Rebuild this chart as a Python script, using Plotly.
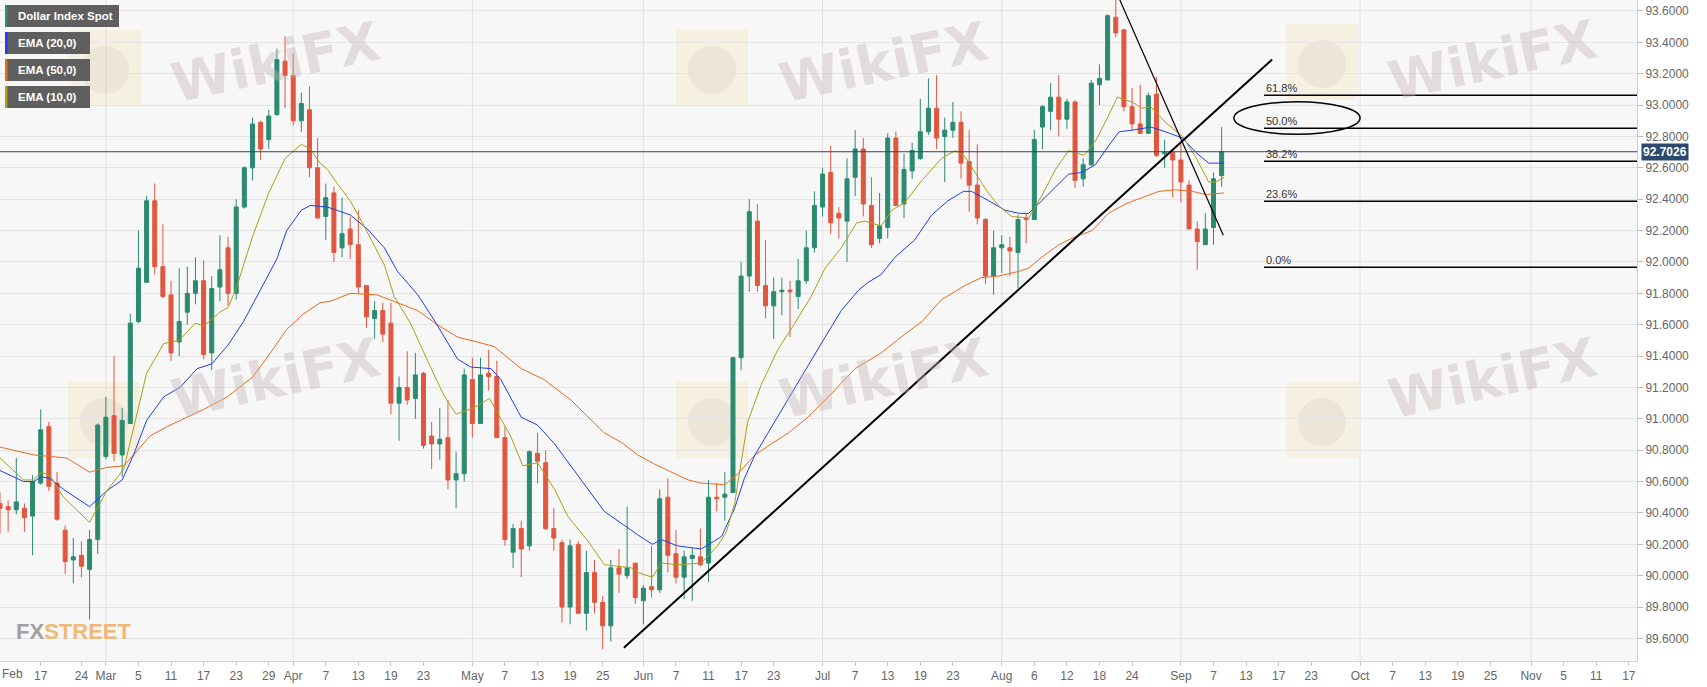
"""Dollar Index Spot, daily candles Feb-Sep 2021, with EMA 10/20/50, trendlines and fib levels."""

import pandas as pd
import plotly.graph_objects as go

# business-day index: 0 = 2021-02-10
days = pd.bdate_range("2021-02-10", "2021-09-08")

opens = [90.46, 90.44, 90.42, 90.43, 90.38, 90.59, 90.95, 90.59, 90.29, 90.10,
         90.13, 90.04, 90.23, 90.76, 91.02, 90.77, 90.97, 91.62, 91.87, 92.39,
         91.97, 91.79, 91.49, 91.68, 91.80, 91.88, 91.42, 91.84, 92.09, 91.80,
         92.35, 92.60, 92.89, 92.78, 92.94, 93.28, 93.19, 92.90, 92.97, 92.60,
         92.29, 92.44, 92.09, 92.21, 92.11, 91.85, 91.64, 91.69, 91.61, 91.10,
         91.20, 91.13, 91.29, 90.89, 90.84, 90.88, 90.61, 90.65, 91.25, 90.97,
         91.29, 91.27, 90.88, 90.15, 90.30, 90.19, 90.78, 90.72, 90.30, 90.21,
         89.80, 90.20, 89.76, 90.02, 89.83, 89.68, 90.05, 90.00, 90.08, 89.84,
         89.93, 89.91, 90.50, 90.14, 89.99, 90.11, 90.12, 90.08, 90.50, 90.50,
         90.53, 91.39, 91.91, 92.26, 91.85, 91.72, 91.81, 91.82, 91.78, 91.88,
         92.09, 92.35, 92.57, 92.31, 92.26, 92.54, 92.72, 92.36, 92.15, 92.22,
         92.79, 92.37, 92.58, 92.66, 92.83, 92.98, 92.80, 92.84, 92.89, 92.64,
         92.49, 92.27, 91.91, 92.09, 92.09, 92.06, 92.28, 92.27, 92.86, 92.96,
         93.05, 92.91, 93.02, 92.53, 92.62, 93.13, 93.16, 93.56, 93.48, 92.99,
         92.88, 92.82, 93.07, 92.69, 92.70, 92.65, 92.49, 92.21, 92.11, 92.22,
         92.55]
highs = [90.53, 90.48, 90.75, 90.46, 90.64, 91.06, 90.98, 90.66, 90.32, 90.24,
         90.22, 90.29, 90.97, 91.14, 91.40, 91.07, 91.67, 92.20, 92.42, 92.50,
         92.24, 91.88, 91.96, 91.97, 92.03, 92.01, 91.91, 92.17, 92.16, 92.40,
         92.61, 92.92, 92.90, 92.97, 93.36, 93.44, 93.33, 93.08, 93.12, 92.79,
         92.50, 92.48, 92.41, 92.29, 92.33, 91.85, 91.75, 91.74, 91.74, 91.27,
         91.43, 91.42, 91.30, 90.98, 91.07, 91.12, 90.79, 91.32, 91.39, 91.39,
         91.44, 91.37, 90.95, 90.33, 90.35, 90.80, 90.91, 90.80, 90.43, 90.23,
         90.23, 90.22, 90.16, 90.10, 89.87, 90.10, 90.17, 90.44, 90.08, 89.94,
         90.19, 90.55, 90.62, 90.29, 90.16, 90.18, 90.30, 90.61, 90.59, 90.66,
         91.39, 92.00, 92.40, 92.37, 92.14, 91.90, 91.90, 91.88, 92.02, 92.20,
         92.45, 92.60, 92.74, 92.35, 92.66, 92.84, 92.79, 92.54, 92.44, 92.82,
         92.83, 92.69, 92.76, 93.04, 93.17, 93.19, 92.92, 93.02, 92.96, 92.84,
         92.75, 92.28, 92.20, 92.17, 92.16, 92.30, 92.31, 92.84, 93.00, 93.14,
         93.19, 93.04, 93.03, 92.66, 93.16, 93.26, 93.58, 93.73, 93.48, 93.11,
         93.13, 93.08, 93.18, 92.78, 92.70, 92.76, 92.52, 92.26, 92.31, 92.57,
         92.86]
lows = [90.27, 90.28, 90.39, 90.28, 90.13, 90.58, 90.54, 90.35, 90.01, 89.95,
        89.99, 89.72, 90.14, 90.74, 90.73, 90.63, 90.97, 91.61, 91.87, 91.92,
        91.77, 91.37, 91.40, 91.60, 91.73, 91.38, 91.31, 91.75, 91.72, 91.76,
        92.34, 92.52, 92.65, 92.72, 92.93, 92.98, 92.87, 92.83, 92.54, 92.28,
        92.14, 92.00, 92.03, 92.02, 91.80, 91.58, 91.51, 91.49, 91.03, 90.86,
        91.09, 91.00, 90.81, 90.68, 90.74, 90.55, 90.43, 90.60, 90.88, 90.97,
        91.18, 90.88, 90.19, 90.05, 89.99, 90.16, 90.59, 90.29, 90.16, 89.70,
        89.69, 89.76, 89.65, 89.76, 89.53, 89.58, 89.89, 89.98, 89.82, 89.69,
        89.86, 89.89, 90.02, 89.95, 89.85, 89.84, 90.06, 89.96, 90.41, 90.35,
        90.53, 91.31, 91.81, 91.81, 91.64, 91.51, 91.66, 91.52, 91.70, 91.86,
        92.06, 92.29, 92.18, 92.15, 92.00, 92.42, 92.29, 92.09, 92.12, 92.15,
        92.36, 92.28, 92.53, 92.65, 92.81, 92.72, 92.51, 92.79, 92.53, 92.32,
        92.24, 91.86, 91.79, 91.93, 91.91, 91.83, 92.12, 92.27, 92.72, 92.84,
        92.80, 92.85, 92.47, 92.48, 92.61, 93.00, 93.16, 93.43, 92.96, 92.84,
        92.82, 92.82, 92.67, 92.60, 92.41, 92.38, 92.21, 91.95, 92.11, 92.11,
        92.48]
closes = [90.43, 90.42, 90.47, 90.37, 90.60, 90.93, 90.57, 90.36, 90.09, 90.12,
          90.06, 90.23, 90.96, 91.01, 90.78, 90.99, 91.61, 91.96, 92.39, 91.97,
          91.78, 91.42, 91.62, 91.80, 91.88, 91.41, 91.83, 91.95, 91.80, 92.35,
          92.60, 92.88, 92.72, 92.93, 93.29, 93.19, 92.90, 93.01, 92.60, 92.28,
          92.41, 92.06, 92.18, 92.11, 91.84, 91.65, 91.69, 91.54, 91.10, 91.20,
          91.12, 91.28, 90.83, 90.84, 90.87, 90.61, 90.65, 91.28, 90.97, 91.28,
          91.27, 90.88, 90.23, 90.30, 90.17, 90.79, 90.73, 90.30, 90.24, 89.80,
          90.19, 89.76, 90.02, 89.83, 89.68, 90.05, 90.01, 90.05, 89.86, 89.92,
          89.91, 90.49, 90.13, 89.99, 90.12, 90.13, 90.07, 90.50, 90.49, 90.52,
          91.39, 91.91, 92.32, 91.85, 91.72, 91.81, 91.82, 91.81, 91.88, 92.09,
          92.36, 92.56, 92.25, 92.28, 92.53, 92.72, 92.37, 92.11, 92.23, 92.79,
          92.36, 92.59, 92.71, 92.83, 92.98, 92.79, 92.84, 92.89, 92.63, 92.49,
          92.28, 91.91, 92.09, 92.11, 92.07, 92.27, 92.27, 92.78, 92.99, 93.05,
          92.91, 93.02, 92.52, 92.62, 93.14, 93.17, 93.57, 93.46, 92.99, 92.88,
          92.82, 93.06, 92.68, 92.70, 92.65, 92.51, 92.21, 92.13, 92.21, 92.53,
          92.7026]

# EMA lines (x in business-day index)
ema10_x = [0, 2.9, 4.1, 5.1, 6.1, 7.8, 11.0, 13.1, 15.2, 16.4, 18.0, 20.1, 22.0, 24.0,
           25.0, 27.0, 28.0, 29.0, 31.0, 33.0, 35.0, 37.0, 38.1, 39.3, 40.2, 41.4, 43.0,
           44.7, 47.2, 48.4, 50.4, 52.5, 54.5, 56.0, 58.2, 60.1, 61.1, 62.7, 64.2, 66.0,
           68.1, 69.7, 72.2, 74.2, 77.5, 78.3, 80.1, 81.2, 83.2, 86.1, 88.1, 89.2, 90.2,
           91.8, 93.5, 95.5, 97.6, 99.6, 101.3, 103.3, 105.2, 106.2, 108.2, 109.5, 111.1,
           113.2, 115.6, 117.3, 118.5, 119.7, 121.2, 122.6, 124.2, 126.3, 127.9, 129.6,
           131.2, 133.1, 134.5, 135.7, 137.2, 139.0, 140.2, 141.3, 143.1, 145.2, 146.8,
           148.4, 149.3, 150.3]
ema10_y = [90.75, 90.61, 90.61, 90.66, 90.64, 90.50, 90.34, 90.54, 90.68, 90.94, 91.29,
           91.48, 91.50, 91.61, 91.59, 91.68, 91.71, 91.83, 92.16, 92.44, 92.66, 92.75,
           92.72, 92.63, 92.59, 92.50, 92.39, 92.23, 91.98, 91.78, 91.61, 91.37, 91.15,
           91.03, 91.07, 91.13, 91.04, 90.89, 90.70, 90.72, 90.55, 90.38, 90.22, 90.07,
           90.05, 90.02, 89.99, 90.08, 90.07, 90.08, 90.19, 90.28, 90.46, 90.98, 91.22,
           91.44, 91.61, 91.78, 91.96, 92.09, 92.25, 92.26, 92.23, 92.33, 92.38, 92.52,
           92.66, 92.71, 92.67, 92.57, 92.45, 92.36, 92.29, 92.28, 92.42, 92.59, 92.71,
           92.68, 92.77, 92.89, 93.05, 93.02, 92.98, 92.99, 92.89, 92.80, 92.67, 92.51,
           92.51, 92.54]
ema20_x = [0, 2.9, 4.1, 5.1, 6.1, 7.8, 11.0, 13.1, 15.0, 16.4, 18.0, 20.1, 22.1, 24.2,
           26.0, 28.0, 29.9, 32.0, 34.0, 35.2, 37.0, 38.1, 40.2, 43.0, 45.1, 47.2, 48.8,
           51.3, 53.3, 56.2, 57.8, 60.3, 61.5, 64.0, 66.0, 68.1, 70.1, 71.7, 74.2, 77.5,
           78.3, 80.1, 81.2, 83.2, 86.1, 88.6, 90.2, 91.4, 92.7, 95.1, 97.6, 99.2, 101.3,
           103.3, 105.4, 106.6, 108.2, 109.9, 112.3, 114.4, 116.4, 118.3, 119.3, 121.4,
           123.4, 125.1, 126.3, 127.9, 129.6, 131.2, 132.8, 134.5, 135.7, 137.4, 139.0,
           140.2, 141.3, 143.1, 145.2, 146.8, 148.4, 150.3]
ema20_y = [90.67, 90.60, 90.60, 90.63, 90.62, 90.55, 90.44, 90.54, 90.61, 90.77, 90.99,
           91.14, 91.20, 91.32, 91.35, 91.47, 91.62, 91.83, 92.02, 92.20, 92.33, 92.36,
           92.35, 92.30, 92.21, 92.09, 91.94, 91.79, 91.63, 91.38, 91.33, 91.32, 91.25,
           91.01, 90.96, 90.84, 90.70, 90.59, 90.41, 90.29, 90.26, 90.20, 90.23, 90.19,
           90.17, 90.25, 90.43, 90.62, 90.77, 90.98, 91.20, 91.34, 91.52, 91.69, 91.82,
           91.87, 91.92, 92.03, 92.14, 92.30, 92.39, 92.45, 92.45, 92.39, 92.33, 92.31,
           92.31, 92.39, 92.48, 92.56, 92.57, 92.62, 92.71, 92.83, 92.84, 92.85, 92.86,
           92.83, 92.79, 92.70, 92.63, 92.63]
ema50_x = [0, 4.1, 8.2, 11.0, 13.1, 15.2, 16.4, 18.4, 20.5, 23.0, 25.0, 27.9, 31.1, 33.2,
           35.2, 37.3, 39.3, 40.6, 43.0, 46.3, 48.8, 51.3, 53.7, 56.2, 58.6, 60.7, 64.0,
           66.8, 70.1, 74.2, 76.3, 78.3, 80.4, 82.4, 84.5, 86.1, 89.0, 90.6, 92.7, 94.7,
           96.8, 99.2, 101.7, 105.0, 108.2, 111.1, 113.2, 115.6, 118.5, 120.5, 122.6,
           125.1, 126.3, 127.9, 130.0, 132.0, 134.1, 136.1, 138.2, 140.2, 142.3, 144.3,
           146.4, 148.0, 150.3]
ema50_y = [90.82, 90.77, 90.75, 90.66, 90.69, 90.70, 90.77, 90.89, 90.95, 91.01, 91.06,
           91.14, 91.27, 91.42, 91.57, 91.67, 91.74, 91.75, 91.80, 91.79, 91.74, 91.69,
           91.60, 91.52, 91.49, 91.46, 91.32, 91.25, 91.12, 90.91, 90.85, 90.77, 90.71,
           90.66, 90.61, 90.59, 90.58, 90.65, 90.77, 90.84, 90.91, 91.01, 91.14, 91.32,
           91.42, 91.54, 91.62, 91.76, 91.85, 91.90, 91.91, 91.94, 91.96, 92.03, 92.11,
           92.16, 92.20, 92.31, 92.37, 92.41, 92.45, 92.46, 92.45, 92.43, 92.44]

# x-axis labels (business-day index -> text); "Feb" sits at the left edge
tick_pos = [5, 10, 13, 17, 21, 25, 29, 33, 36, 40, 44, 48, 52, 58, 62, 66, 70, 74,
            79, 83, 87, 91, 95, 101, 105, 109, 113, 117, 123, 127, 131, 135, 139, 145,
            149, 153, 157, 161, 167, 171, 175, 179, 183, 188, 192, 196, 200]
tick_text = ["17", "24", "Mar", "5", "11", "17", "23", "29", "Apr", "7", "13",
             "19", "23", "May", "7", "13", "19", "25", "Jun", "7", "11", "17", "23",
             "Jul", "7", "13", "19", "23", "Aug", "6", "12", "18", "24", "Sep", "7",
             "13", "17", "23", "Oct", "7", "13", "19", "25", "Nov", "5", "11", "17"]
month_pos = [13, 36, 58, 79, 101, 123, 145, 167, 188]

fib_labels = ["61.8%", "50.0%", "38.2%", "23.6%", "0.0%"]
fib_prices = [93.063, 92.852, 92.642, 92.387, 91.966]

last_price = 92.7026
X_RANGE = [0, 201]
Y_RANGE = [89.456, 93.67]
PLOT_W, PLOT_H = 1637, 661

FONT = "Liberation Sans, Arial, sans-serif"


def px(x):
    return x / PLOT_W


def py(y):
    return 1 - y / PLOT_H


x = list(range(len(days)))

fig = go.Figure()
fig.add_trace(go.Candlestick(
    x=x, open=opens, high=highs, low=lows, close=closes,
    increasing=dict(line=dict(color="#2b8a70", width=1), fillcolor="#2b8a70"),
    decreasing=dict(line=dict(color="#e0573f", width=1), fillcolor="#e0573f"),
    whiskerwidth=0, showlegend=False, name="Dollar Index Spot"))
fig.add_scatter(x=ema50_x, y=ema50_y, mode="lines",
                line=dict(color="#ec6a1e", width=1), showlegend=False)
fig.add_scatter(x=ema20_x, y=ema20_y, mode="lines",
                line=dict(color="#1c3ff0", width=1), showlegend=False)
fig.add_scatter(x=ema10_x, y=ema10_y, mode="lines",
                line=dict(color="#a9a017", width=1), showlegend=False)

shapes = []
for m in month_pos:
    shapes.append(dict(type="line", xref="x", yref="paper", x0=m, x1=m, y0=0, y1=1,
                       line=dict(color="#e2e2e2", width=1), layer="below"))

# watermark logos (pale squares)
for cx, cy in [(105, 68), (712, 68), (1322, 62), (104, 420), (712, 420), (1322, 420)]:
    shapes.append(dict(type="rect", xref="paper", yref="paper",
                       x0=px(cx - 36), x1=px(cx + 36), y0=py(cy + 38), y1=py(cy - 38),
                       fillcolor="rgba(245,212,130,0.18)", line=dict(width=0), layer="below"))
    shapes.append(dict(type="circle", xref="paper", yref="paper",
                       x0=px(cx - 24), x1=px(cx + 24), y0=py(cy + 26), y1=py(cy - 22),
                       fillcolor="rgba(150,140,140,0.10)", line=dict(width=0), layer="below"))

# last price line
shapes.append(dict(type="line", xref="paper", yref="y", x0=0, x1=1,
                   y0=last_price, y1=last_price, line=dict(color="#2c4468", width=1)))

# trendlines
shapes.append(dict(type="line", xref="x", yref="y", x0=76.6, y0=89.54, x1=156.2, y1=93.29,
                   line=dict(color="black", width=2)))
shapes.append(dict(type="line", xref="x", yref="y", x0=137.5, y0=93.67, x1=150.2, y1=92.17,
                   line=dict(color="black", width=1.2)))

# fibonacci levels
for lab, p in zip(fib_labels, fib_prices):
    shapes.append(dict(type="line", xref="x", yref="y", x0=155.2, x1=X_RANGE[1], y0=p, y1=p,
                       line=dict(color="black", width=1.5)))
shapes.append(dict(type="circle", xref="x", yref="y", x0=151.5, x1=167.0,
                   y0=92.814, y1=93.022, line=dict(color="black", width=1.5)))

# legend boxes, top left
legend_items = [("Dollar Index Spot", "#2f8f74", 119, 5),
                ("EMA (20,0)", "#1c3ff0", 90, 32),
                ("EMA (50,0)", "#ec6a1e", 90, 59),
                ("EMA (10,0)", "#a9a017", 90, 86)]
annotations = []
for name, col, right, top in legend_items:
    shapes.append(dict(type="rect", xref="paper", yref="paper",
                       x0=px(5), x1=px(right), y0=py(top + 22), y1=py(top),
                       fillcolor="#5f5f5f", line=dict(width=0)))
    shapes.append(dict(type="rect", xref="paper", yref="paper",
                       x0=px(5), x1=px(7.5), y0=py(top + 22), y1=py(top),
                       fillcolor=col, line=dict(width=0)))
    annotations.append(dict(xref="paper", yref="paper", x=px(16), y=py(top + 11),
                            xanchor="left", yanchor="middle", showarrow=False,
                            text=f"<b>{name}</b>", font=dict(family=FONT, size=11.5, color="white")))

for lab, p in zip(fib_labels, fib_prices):
    annotations.append(dict(xref="x", yref="y", x=155.2, y=p, xanchor="left", yanchor="bottom",
                            showarrow=False, text=lab, yshift=-1,
                            font=dict(family=FONT, size=11, color="#333333")))

# watermark text
for cx, cy in [(275, 62), (883, 62), (1492, 60), (275, 378), (883, 378), (1492, 378)]:
    annotations.append(dict(xref="paper", yref="paper", x=px(cx), y=py(cy),
                            xanchor="center", yanchor="middle", showarrow=False,
                            text="<b>WikiFX</b>", textangle=-12,
                            font=dict(family="DejaVu Sans", size=54, color="rgba(195,180,180,0.40)")))

annotations.append(dict(xref="paper", yref="paper", x=px(14), y=py(631), xanchor="left",
                        yanchor="middle", showarrow=False,
                        text="<b><span style='color:#a0a0a0'>FX</span>"
                             "<span style='color:#f0b878'>STREET</span></b>",
                        font=dict(family=FONT, size=22)))

annotations.append(dict(xref="paper", yref="paper", x=0, y=0, xanchor="left", yanchor="top",
                        yshift=-4, showarrow=False, text="Feb",
                        font=dict(family=FONT, size=12, color="#666666")))

annotations.append(dict(xref="paper", yref="y", x=1, y=last_price, xanchor="left",
                        yanchor="middle", xshift=4, showarrow=False,
                        text=f"<b>{last_price:.4f}</b>", bgcolor="#2c4a6e", borderpad=1,
                        font=dict(family=FONT, size=12, color="white")))

fig.update_layout(
    width=1707, height=687,
    margin=dict(l=0, r=70, t=0, b=26),
    paper_bgcolor="white", plot_bgcolor="#f7f7f7",
    shapes=shapes, annotations=annotations,
    showlegend=False, hovermode=False,
)
fig.update_xaxes(range=X_RANGE, tickvals=tick_pos, ticktext=tick_text, showgrid=False,
                 zeroline=False, rangeslider_visible=False, ticks="outside", ticklen=4,
                 tickcolor="#c4c4c4", showline=True, linecolor="#d4d4de", mirror=True,
                 tickfont=dict(family=FONT, size=12, color="#666666"))
fig.update_yaxes(side="right", range=Y_RANGE, tick0=89.6, dtick=0.2, tickformat=".4f",
                 gridcolor="#e4e4e4", zeroline=False, ticks="outside", ticklen=5,
                 tickcolor="#bbbbbb", showline=True, linecolor="#cccccc",
                 tickfont=dict(family=FONT, size=12, color="#666666"))

fig.write_html("out.html", config={"displayModeBar": False},
               post_script="document.body.style.margin='0';")
